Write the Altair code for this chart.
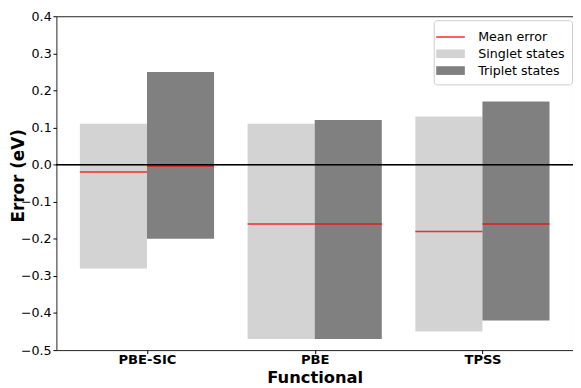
import altair as alt
import pandas as pd

functionals = ["PBE-SIC", "PBE", "TPSS"]
singlet_max = [0.11, 0.11, 0.13]
singlet_min = [-0.28, -0.47, -0.45]
singlet_mean = [-0.02, -0.16, -0.18]
triplet_max = [0.25, 0.12, 0.17]
triplet_min = [-0.20, -0.47, -0.42]
triplet_mean = [-0.004, -0.16, -0.16]

series = ["Mean error", "Singlet states", "Triplet states"]
series_colors = ["#ff3333", "lightgray", "gray"]

rows = []
for i, f in enumerate(functionals):
    rows.append(dict(functional=f, idx=i, state="Singlet states", side=-1,
                     low=singlet_min[i], high=singlet_max[i], mean=singlet_mean[i]))
    rows.append(dict(functional=f, idx=i, state="Triplet states", side=0,
                     low=triplet_min[i], high=triplet_max[i], mean=triplet_mean[i]))
df = pd.DataFrame(rows)

FONT = "DejaVu Sans"
bar_w = 0.4

base = alt.Chart(df).transform_calculate(
    left=f"datum.idx + datum.side * {bar_w}",
    right=f"datum.idx + datum.side * {bar_w} + {bar_w}",
)

xscale = alt.Scale(domain=[-0.54, 2.54], nice=False, zero=False)
yscale = alt.Scale(domain=[-0.5, 0.4], nice=False, zero=False)
color_scale = alt.Scale(domain=series, range=series_colors)

label_expr = "[" + ",".join(f"'{f}'" for f in functionals) + "][round(datum.value)]"

x_axis = alt.Axis(values=[0, 1, 2], tickCount=10, labelExpr=label_expr, title="Functional",
                  grid=False, domain=False, tickSize=3.5, tickColor="black",
                  labelOverlap=False,
                  labelFont=FONT, labelFontSize=13.3, labelFontWeight="bold",
                  labelColor="black", labelBaseline="alphabetic", labelPadding=10,
                  titleFont=FONT, titleFontSize=16.5, titleFontWeight="bold",
                  titleColor="black", titleBaseline="alphabetic", titleY=33)
y_axis = alt.Axis(values=[-0.5, -0.4, -0.3, -0.2, -0.1, 0.0, 0.1, 0.2, 0.3, 0.4],
                  tickCount=20,
                  format=".1f", title="Error (eV)", grid=False, domain=False,
                  tickSize=3.5, tickColor="black", labelPadding=1.8,
                  labelOverlap=False, labelFlush=False,
                  labelFont=FONT, labelFontSize=12.8, labelColor="black",
                  titleFont=FONT, titleFontSize=17, titleFontWeight="bold",
                  titleColor="black", titleAngle=270, titleAlign="center",
                  titleBaseline="middle", titleX=-38, titleY=161)

legend = alt.Legend(orient="none", legendX=382, legendY=4, title=None,
                    labelFont=FONT, labelFontSize=12.8, labelColor="black",
                    symbolSize=400, labelOffset=18, rowPadding=0,
                    padding=7, strokeColor="#cccccc", fillColor="white",
                    cornerRadius=3, symbolStrokeWidth=0, symbolOpacity=1)

bars = base.mark_bar().encode(
    x=alt.X("left:Q", scale=xscale, axis=x_axis),
    x2="right:Q",
    y=alt.Y("low:Q", scale=yscale, axis=y_axis),
    y2="high:Q",
    color=alt.Color("state:N", scale=color_scale, legend=legend),
)

means = base.mark_rule(color="red", opacity=0.8, strokeWidth=1.5).encode(
    x="left:Q", x2="right:Q", y="mean:Q",
)

zero = alt.Chart(df).mark_rule(color="black", strokeWidth=1.0).encode(
    y=alt.datum(0),
)

shape_scale = alt.Scale(domain=series, range=[
    "M-1.45,-0.08H1.45V0.08H-1.45Z",
    "M-1.45,-0.44H1.45V0.44H-1.45Z",
    "M-1.45,-0.44H1.45V0.44H-1.45Z",
])

legend_layer = alt.Chart(df).transform_filter("false").mark_point(
    filled=True, size=400, opacity=1).encode(
    x=alt.X("idx:Q"),
    y=alt.Y("mean:Q"),
    color=alt.Color("state:N", scale=color_scale, legend=legend),
    shape=alt.Shape("state:N", scale=shape_scale, legend=legend),
)

chart = alt.layer(bars, means, zero, legend_layer).properties(
    width=523, height=338,
    autosize=alt.AutoSizeParams(type="none"),
    padding={"left": 49, "top": 6, "right": 0, "bottom": 36},
).configure_view(stroke="#222222", strokeWidth=1)

chart.save("out.html", embed_options={"renderer": "svg", "actions": False})
